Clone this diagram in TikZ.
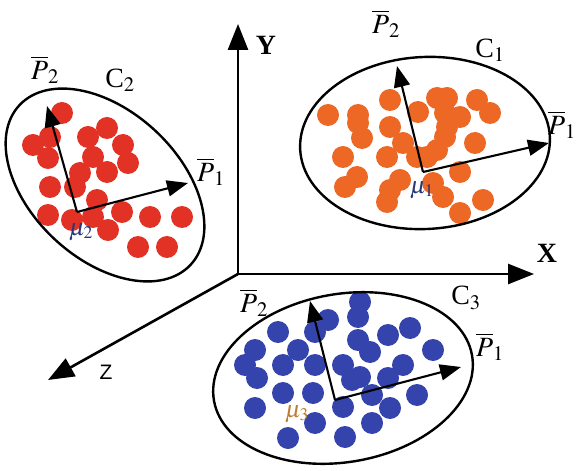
\documentclass[tikz,border=0pt]{standalone}
\usepackage{mathptmx}
\usepackage{fontspec}
\setmainfont{Liberation Serif}
\newfontfamily\zfont{Liberation Sans}
\usetikzlibrary{arrows.meta}
\definecolor{cred}{RGB}{226,50,38}
\definecolor{corange}{RGB}{236,104,36}
\definecolor{cblue}{RGB}{52,68,172}
\definecolor{mulabA}{RGB}{40,55,120}
\definecolor{mulabB}{RGB}{190,125,45}
\tikzset{
  axis/.style={line width=2.6bp,-{Triangle[length=26bp,width=20bp]}},
  vec/.style={line width=2.1bp,-{Triangle[length=21bp,width=16bp]}},
  clus/.style={line width=2.4bp},
  lbl/.style={font=\fontsize{28}{30}\selectfont,inner sep=0pt},
  mulbl/.style={font=\fontsize{24}{26}\selectfont,inner sep=0pt},
  dot/.style={radius=11bp},
}
\begin{document}
\begin{tikzpicture}[x=1bp,y=1bp]
\useasboundingbox (0,0) rectangle (576,-471);
% dots C2
\foreach \a/\b in {62/113,33/145,50/137,88/137,107/128,123/145,48/158,93/157,128/163,80/173,107/172,50/187,75/187,97/200,48/215,72/220,93/217,122/212,150/217,182/217,108/230,138/247,167/247}
  \fill[cred,dot] (\a,-\b) circle;
% dots C1
\foreach \a/\b in {328/115,358/115,358/123,390/100,362/138,390/127,418/112,437/98,447/98,445/113,447/127,445/137,477/100,490/113,460/117,475/143,343/157,387/157,403/143,417/157,427/157,357/177,345/187,390/190,387/202,400/180,433/183,443/197,460/172,483/200,460/213,437/150}
  \fill[corange,dot] (\a,-\b) circle;
% dots C3
\foreach \a/\b in {360/302,358/317,328/320,278/332,315/332,358/340,388/335,410/328,255/350,298/350,370/352,433/350,245/365,283/365,315/365,343/365,403/365,257/378,360/377,388/378,283/393,313/393,372/395,417/395,255/408,343/407,390/408,315/423,372/423,288/438,345/437,352/380}
  \fill[cblue,dot] (\a,-\b) circle;
% ellipses
\draw[clus,rotate around={-43:(105,-185)}] (105,-185) ellipse (117 and 74);
\draw[clus,rotate around={3:(425,-143)}] (425,-143) ellipse (125 and 86);
\draw[clus,rotate around={10:(343,-378)}] (343,-378) ellipse (131 and 84);
% axes
\coordinate (O) at (238,-274);
\coordinate (Ytip) at (238,-24);
\coordinate (Xtip) at (534,-274);
\coordinate (Ztip) at (48,-380);
\draw[axis] (O) -- (Ytip);
\draw[axis] (O) -- (Xtip);
\draw[axis] (O) -- (Ztip);
\node[lbl] (Ylab) at (266,-45) {\textbf{Y}};
\node[lbl] (Xlab) at (547,-253) {\textbf{X}};
\node[inner sep=0pt,font=\zfont\fontsize{21}{23}\selectfont] (Zlab) at (106,-372) {Z};
% cluster 2 vectors
\coordinate (m2) at (77,-212);
\coordinate (p21) at (188,-183);
\coordinate (p22) at (47,-106);
\draw[vec] (m2) -- (p21);
\draw[vec] (m2) -- (p22);
\node[lbl] (c2P2) at (45,-70) {$\overline{P}_2$};
\node[lbl] (c2C) at (120,-80) {C$_2$};
\node[lbl] (c2P1) at (211,-172) {$\overline{P}_1$};
\node[mulbl,text=mulabA] (c2mu) at (81,-232) {$\mu_2$};
% cluster 1 vectors
\coordinate (m1) at (423,-172);
\coordinate (p11) at (549,-143);
\coordinate (p12) at (397,-66);
\draw[vec] (m1) -- (p11);
\draw[vec] (m1) -- (p12);
\node[lbl] (c1P2) at (386,-24) {$\overline{P}_2$};
\node[lbl] (c1C) at (490,-50) {C$_1$};
\node[lbl] (c1P1) at (562,-125) {$\overline{P}_1$};
\node[mulbl,text=mulabA] (c1mu) at (422,-190) {$\mu_1$};
% cluster 3 vectors
\coordinate (m3) at (335,-400);
\coordinate (p31) at (461,-367);
\coordinate (p32) at (310,-301);
\draw[vec] (m3) -- (p31);
\draw[vec] (m3) -- (p32);
\node[lbl] (c3P2) at (254,-303) {$\overline{P}_2$};
\node[lbl] (c3C) at (466,-298) {C$_3$};
\node[lbl] (c3P1) at (490,-347) {$\overline{P}_1$};
\node[mulbl,text=mulabB] (c3mu) at (297,-414) {$\mu_3$};
\end{tikzpicture}
\end{document}
